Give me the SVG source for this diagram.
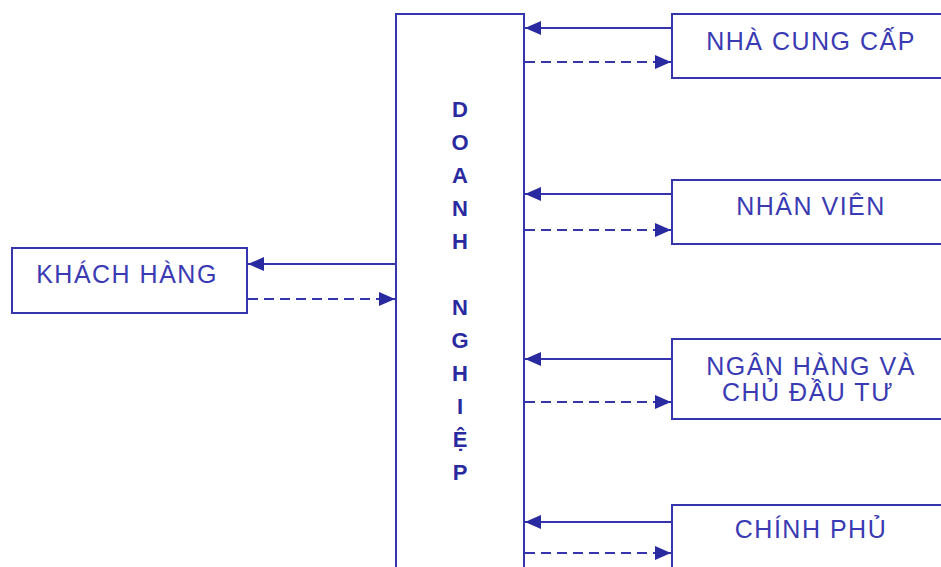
<svg xmlns="http://www.w3.org/2000/svg" width="941" height="567" viewBox="0 0 941 567">
<style>
.box{fill:#fff;stroke:#3535ad;stroke-width:2}
.ln{stroke:#3535ad;stroke-width:2;fill:none}
.ds{stroke:#3535ad;stroke-width:2;fill:none;stroke-dasharray:10 6}
.t{font-family:"Liberation Sans",Arial,sans-serif;font-size:25px;fill:#3a3ab2;text-anchor:middle;letter-spacing:1.5px}
.v{font-family:"Liberation Sans",Arial,sans-serif;font-size:22px;font-weight:bold;fill:#2a2aa0;text-anchor:middle}
</style>
<defs>
<marker id="ah" viewBox="0 0 16 14" refX="16" refY="7" markerWidth="16" markerHeight="14" markerUnits="userSpaceOnUse" orient="auto">
<path d="M0,0 L16,7 L0,14 Z" fill="#2a2aa0"/>
</marker>
</defs>
<rect width="941" height="567" fill="#fff"/>
<g id="doanh-nghiep">
<rect class="box" x="396" y="14" width="128" height="570"/>
<text class="v" x="460" y="117">D</text>
<text class="v" x="460" y="150">O</text>
<text class="v" x="460" y="183">A</text>
<text class="v" x="460" y="216">N</text>
<text class="v" x="460" y="249">H</text>
<text class="v" x="460" y="315">N</text>
<text class="v" x="460" y="348">G</text>
<text class="v" x="460" y="381">H</text>
<text class="v" x="460" y="414">I</text>
<text class="v" x="460" y="447">Ệ</text>
<text class="v" x="460" y="480">P</text>
</g>
<g id="khach-hang">
<rect class="box" x="12" y="248" width="235" height="65"/>
<text class="t" x="127" y="283">KHÁCH HÀNG</text>
</g>
<g id="nha-cung-cap">
<rect class="box" x="672" y="14" width="280" height="64"/>
<text class="t" x="811" y="50">NHÀ CUNG CẤP</text>
</g>
<g id="nhan-vien">
<rect class="box" x="672" y="180" width="280" height="64"/>
<text class="t" x="811" y="215">NHÂN VIÊN</text>
</g>
<g id="ngan-hang">
<rect class="box" x="672" y="339" width="280" height="80"/>
<text class="t" x="811" y="375">NGÂN HÀNG VÀ</text>
<text class="t" x="808" y="401">CHỦ ĐẦU TƯ</text>
</g>
<g id="chinh-phu">
<rect class="box" x="672" y="505" width="280" height="80"/>
<text class="t" x="811" y="538">CHÍNH PHỦ</text>
</g>
<g id="connectors">
<line class="ln" x1="672" y1="28" x2="525" y2="28" marker-end="url(#ah)"/>
<line class="ds" x1="525" y1="62" x2="671" y2="62" marker-end="url(#ah)"/>
<line class="ln" x1="672" y1="194" x2="525" y2="194" marker-end="url(#ah)"/>
<line class="ds" x1="525" y1="230" x2="671" y2="230" marker-end="url(#ah)"/>
<line class="ln" x1="672" y1="359" x2="525" y2="359" marker-end="url(#ah)"/>
<line class="ds" x1="525" y1="402" x2="671" y2="402" marker-end="url(#ah)"/>
<line class="ln" x1="672" y1="522" x2="525" y2="522" marker-end="url(#ah)"/>
<line class="ds" x1="525" y1="553" x2="671" y2="553" marker-end="url(#ah)"/>
<line class="ln" x1="396" y1="264" x2="248" y2="264" marker-end="url(#ah)"/>
<line class="ds" x1="248" y1="299" x2="395" y2="299" marker-end="url(#ah)"/>
</g>
</svg>
